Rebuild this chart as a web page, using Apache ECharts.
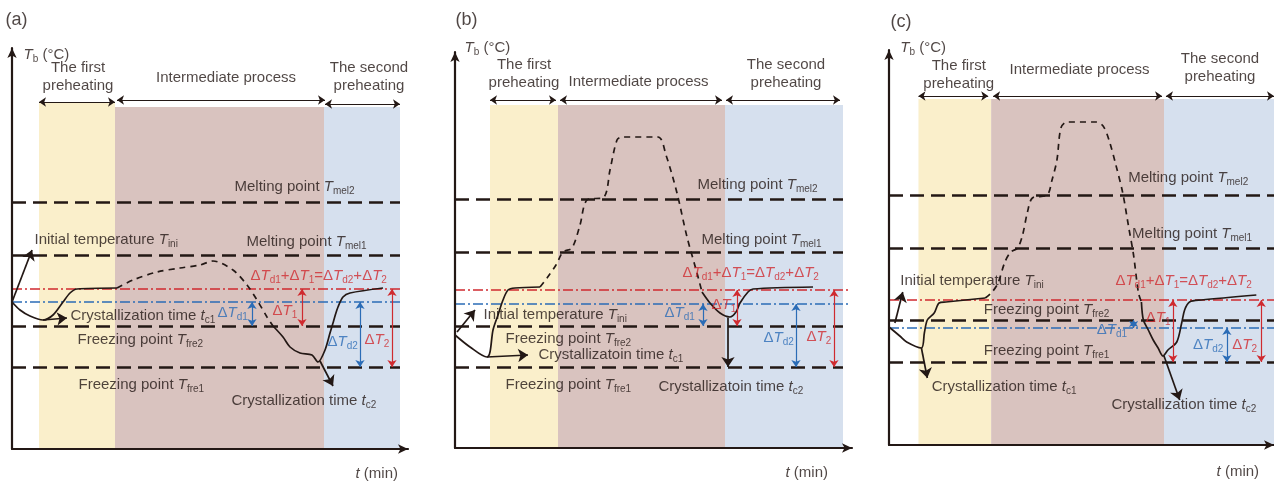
<!DOCTYPE html>
<html><head><meta charset="utf-8">
<script src="https://cdn.jsdelivr.net/npm/echarts@6/dist/echarts.min.js"></script>
<style>html,body{margin:0;padding:0;background:#fff}#c{width:1274px;height:481px}</style>
</head><body><div id="c"></div>
<script>
// ---------- shared strings ----------
const EQ = 'Δ{i|T}{s|d1}+Δ{i|T}{s|1}=Δ{i|T}{s|d2}+Δ{i|T}{s|2}';
const PHASE_COLORS = ['#faefcb', '#d9c3bf', '#d6e0ee'];

// ---------- panel (a) ----------
const phasesA = [[27,103,346],[103,312,342],[312,388,342]];
const phaseArrowsA = [[27,103,347],[105,313,349],[313,388,345]];
const levelsA = [247,194,123,82];   // Tmel2, Tmel1, Tfre2, Tfre1
const levelSpanA = [0,388];
const refsA = [160,147];             // red, blue
const refSpanA = [0,388];
const solid1A = [[0,147],[8,139],[18,133],[31,129],[41,134],[51,147],[58,156],[65,160],[105,161]];
const dashA = [[105,161],[121,169],[145,177],[168,181],[188,184],[201,188],[221,179],[235,164],[245,149],[255,132],[261,123]];
const solid2A = [[261,123],[271,112],[278,102],[288,96],[300,94],[306,87],[313,99],[318,116],[321,126],[323,133],[326,142],[331,152],[338,156],[371,161]];
const arrowsA = [[0,147,20,199],[31,129,55,131],[308,88,321,63]];
const redArrowsA = [[290,160,290,123],[380,160,380,82]];
const blueArrowsA = [[240,147,240,123],[348,147,348,82]];
const labelsA = [
  ['(a)', -7, 429, 'r', 'k', 18],
  ['{i|T}{s|b} (°C)', 11, 394, 'r', 'k'],
  ['The first\npreheating', 66, 372, 'c', 'k'],
  ['Intermediate process', 214, 371, 'c', 'k'],
  ['The second\npreheating', 357, 372, 'c', 'k'],
  ['Melting point {i|T}{s|mel2}', 222, 262, 'r', 'k'],
  ['Initial temperature {i|T}{s|ini}', 22, 209, 'r', 'k'],
  ['Melting point {i|T}{s|mel1}', 234, 207, 'r', 'k'],
  [EQ, 238, 173, 'r', 'r'],
  ['Crystallization time {i|t}{s|c1}', 58, 133, 'r', 'k'],
  ['Δ{i|T}{s|d1}', 205, 136, 'r', 'b'],
  ['Δ{i|T}{s|1}', 260, 138, 'r', 'r'],
  ['Freezing point {i|T}{s|fre2}', 65, 109, 'r', 'k'],
  ['Δ{i|T}{s|d2}', 315, 107, 'r', 'b'],
  ['Δ{i|T}{s|2}', 352, 109, 'r', 'r'],
  ['Freezing point {i|T}{s|fre1}', 66, 64, 'r', 'k'],
  ['Crystallization time {i|t}{s|c2}', 219, 48, 'r', 'k'],
  ['{i|t} (min)', 343, -25, 'r', 'k']
];

// ---------- panel (b) ----------
const phasesB = [[35,103,343],[103,270,343],[270,388,343]];
const phaseArrowsB = [[35,101,348],[105,267,348],[271,385,348]];
const levelsB = [249,196,122,81];
const levelSpanB = [0,388];
const refsB = [158,144];
const refSpanB = [0,395];
const solid1B = [[0,113],[15,101],[32,91],[35,96],[38,118],[43,133],[48,148],[53,158],[60,160],[85,161]];
const dashB = [[85,161],[92,170],[101,183],[108,196],[117,200],[125,223],[132,248],[149,251],[155,278],[162,308],[167,311],[203,311],[211,293],[222,255],[232,211],[242,175],[247,156]];
const solid2B = [[247,156],[255,145],[265,135],[275,131],[281,136],[285,145],[293,156],[298,159],[358,161]];
const arrowsB = [[2,116,20,138],[32,91,73,93],[273,130,273,81]];
const redArrowsB = [[282,158,282,122],[379,158,379,81]];
const blueArrowsB = [[248,144,248,122],[341,144,341,81]];
const labelsB = [
  ['(b)', 0, 428, 'r', 'k', 18],
  ['{i|T}{s|b} (°C)', 9, 400, 'r', 'k'],
  ['The first\npreheating', 69, 374, 'c', 'k'],
  ['Intermediate process', 113, 366, 'r', 'k'],
  ['The second\npreheating', 331, 374, 'c', 'k'],
  ['Melting point {i|T}{s|mel2}', 242, 263, 'r', 'k'],
  ['Melting point {i|T}{s|mel1}', 246, 208, 'r', 'k'],
  [EQ, 227, 175, 'r', 'r'],
  ['Initial temperature {i|T}{s|ini}', 28, 133, 'r', 'k'],
  ['Δ{i|T}{s|d1}', 209, 135, 'r', 'b'],
  ['Δ{i|T}{s|1}', 256, 143, 'r', 'r'],
  ['Freezing point {i|T}{s|fre2}', 50, 109, 'r', 'k'],
  ['Crystallizatoin time {i|t}{s|c1}', 83, 93, 'r', 'k'],
  ['Δ{i|T}{s|d2}', 308, 110, 'r', 'b'],
  ['Δ{i|T}{s|2}', 351, 111, 'r', 'r'],
  ['Freezing point {i|T}{s|fre1}', 50, 63, 'r', 'k'],
  ['Crystallizatoin time {i|t}{s|c2}', 203, 61, 'r', 'k'],
  ['{i|t} (min)', 330, -25, 'r', 'k']
];

// ---------- panel (c) ----------
const phasesC = [[30,104,346],[104,280,346],[280,395,346]];
const phaseArrowsC = [[30,101,349],[106,278,349],[282,392,349]];
const levelsC = [250,197,125,83];
const levelSpanC = [0,392];
const refsC = [145,117];
const refSpanC = [0,392];
const solid1C = [[0,118],[11,109],[18,103],[33,97],[36,112],[39,125],[46,132],[51,142],[58,143],[98,147]];
const dashC = [[98,147],[105,153],[111,162],[118,183],[124,193],[131,197],[136,210],[141,233],[146,247],[161,250],[166,265],[171,285],[175,317],[181,323],[211,323],[218,319],[224,305],[231,280],[238,252],[244,218],[249,190],[254,152],[257,143]];
const solid2C = [[257,143],[259,125],[264,115],[269,105],[274,97],[279,89],[284,95],[293,103],[298,122],[301,135],[306,143],[318,145],[374,150]];
const arrowsC = [[6,122,14,153],[33,97,39,67],[280,89,296,45]];
const redArrowsC = [[289,145,289,83],[379,145,379,83]];
const blueArrowsC = [[249,125,249,117],[344,117,344,83]];
const labelsC = [
  ['(c)', 1, 423, 'r', 'k', 18],
  ['{i|T}{s|b} (°C)', 11, 397, 'r', 'k'],
  ['The first\npreheating', 71, 370, 'c', 'k'],
  ['Intermediate process', 194, 375, 'c', 'k'],
  ['The second\npreheating', 337, 377, 'c', 'k'],
  ['Melting point {i|T}{s|mel2}', 243, 267, 'r', 'k'],
  ['Melting point {i|T}{s|mel1}', 247, 211, 'r', 'k'],
  ['Initial temperature {i|T}{s|ini}', 11, 164, 'r', 'k'],
  [EQ, 230, 164, 'r', 'r'],
  ['Freezing point {i|T}{s|fre2}', 96, 135, 'r', 'k'],
  ['Δ{i|T}{s|1}', 261, 127, 'r', 'r'],
  ['Δ{i|T}{s|d1}', 211, 115, 'r', 'b'],
  ['Freezing point {i|T}{s|fre1}', 96, 94, 'r', 'k'],
  ['Δ{i|T}{s|d2}', 309, 100, 'r', 'b'],
  ['Δ{i|T}{s|2}', 349, 100, 'r', 'r'],
  ['Crystallization time {i|t}{s|c1}', 43, 58, 'r', 'k'],
  ['Crystallization time {i|t}{s|c2}', 226, 40, 'r', 'k'],
  ['{i|t} (min)', 333, -27, 'r', 'k']
];

// ---------- layout ----------
const gridBoxes = [
  {left:12, top:48, width:396, height:401},
  {left:455, top:52, width:397, height:396},
  {left:889, top:50, width:392, height:395}
];

const INK = '#231815', RED = '#cf2a2f', BLUE = '#2b6cb6';
const COLOR = {k: INK, r: RED, b: BLUE};
const FONT = '"Liberation Sans", Arial, sans-serif';

function shade(params, api) {
  const a = api.coord([api.value(0), api.value(2)]);
  const b = api.coord([api.value(1), 0]);
  return {type:'rect', shape:{x:a[0], y:a[1], width:b[0]-a[0], height:b[1]-a[1]},
          style:{fill: PHASE_COLORS[api.value(3)]}};
}

function seg(list) { return list.map(s => ({coords: [[s[0], s[1]], [s[2], s[3]]]})); }

function panelSeries(i, d) {
  const base = {xAxisIndex: i, yAxisIndex: i, silent: true};
  const linesBase = Object.assign({type:'lines', coordinateSystem:'cartesian2d'}, base);
  return [
    Object.assign({type:'custom', renderItem: shade, z:1, clip:false,
      data: d.phases.map((p,k) => [p[0], p[1], p[2], k])}, base),
    Object.assign({}, linesBase, {z:3, symbol:'none',
      lineStyle:{color:INK, width:2.6, type:[14,7], opacity:1},
      data: d.levels.map(v => ({coords:[[d.levelSpan[0], v],[d.levelSpan[1], v]]}))}),
    Object.assign({}, linesBase, {z:3, symbol:'none',
      lineStyle:{color:RED, width:1.5, type:[10,3,2,3], opacity:1},
      data: [{coords:[[d.refSpan[0], d.refs[0]],[d.refSpan[1], d.refs[0]]]}]}),
    Object.assign({}, linesBase, {z:3, symbol:'none',
      lineStyle:{color:BLUE, width:1.5, type:[10,3,2,3], opacity:1},
      data: [{coords:[[d.refSpan[0], d.refs[1]],[d.refSpan[1], d.refs[1]]]}]}),
    Object.assign({type:'line', data:d.solid1, showSymbol:false, symbol:'none', smooth:0.3, clip:false, z:4,
      lineStyle:{color:INK, width:1.7}}, base),
    Object.assign({type:'line', data:d.dashed, showSymbol:false, symbol:'none', smooth:0.3, clip:false, z:4,
      lineStyle:{color:INK, width:1.7, type:[6,5]}}, base),
    Object.assign({type:'line', data:d.solid2, showSymbol:false, symbol:'none', smooth:0.3, clip:false, z:4,
      lineStyle:{color:INK, width:1.7}}, base),
    Object.assign({}, linesBase, {z:5, symbol:['none','arrow'], symbolSize:10,
      lineStyle:{color:INK, width:1.7, opacity:1}, data: seg(d.arrows)}),
    Object.assign({}, linesBase, {z:5, symbol:['arrow','arrow'], symbolSize:7,
      lineStyle:{color:RED, width:1.2, opacity:1}, data: seg(d.redArrows)}),
    Object.assign({}, linesBase, {z:5, symbol:['arrow','arrow'], symbolSize:7,
      lineStyle:{color:BLUE, width:1.2, opacity:1}, data: seg(d.blueArrows)}),
    Object.assign({}, linesBase, {z:5, symbol:['arrow','arrow'], symbolSize:7,
      lineStyle:{color:INK, width:1, opacity:1},
      data: d.phaseArrows.map(p => ({coords:[[p[0], p[2]],[p[1], p[2]]]}))}),
    Object.assign({type:'scatter', symbol:'circle', symbolSize:1, itemStyle:{color:'rgba(0,0,0,0)'}, clip:false, z:6,
      label:{show:true, formatter: p => p.name, fontFamily: FONT, fontSize:15, lineHeight:18, color: INK,
        rich:{i:{fontStyle:'italic'}, s:{fontSize:10, lineHeight:10, verticalAlign:'bottom'}}},
      labelLayout: {hideOverlap: false},
      data: d.labels.map(l => ({name:l[0], value:[l[1], l[2]],
        label:{position: l[3] === 'c' ? 'inside' : 'right', distance:0, align: l[3]==='c' ? 'center' : 'left',
               color: COLOR[l[4]], fontSize: l[5] || 15}}))}, base)
  ];
}

const panels = [
  {phases:phasesA, phaseArrows:phaseArrowsA, levels:levelsA, levelSpan:levelSpanA, refs:refsA, refSpan:refSpanA,
   solid1:solid1A, dashed:dashA, solid2:solid2A, arrows:arrowsA, redArrows:redArrowsA, blueArrows:blueArrowsA, labels:labelsA},
  {phases:phasesB, phaseArrows:phaseArrowsB, levels:levelsB, levelSpan:levelSpanB, refs:refsB, refSpan:refSpanB,
   solid1:solid1B, dashed:dashB, solid2:solid2B, arrows:arrowsB, redArrows:redArrowsB, blueArrows:blueArrowsB, labels:labelsB},
  {phases:phasesC, phaseArrows:phaseArrowsC, levels:levelsC, levelSpan:levelSpanC, refs:refsC, refSpan:refSpanC,
   solid1:solid1C, dashed:dashC, solid2:solid2C, arrows:arrowsC, redArrows:redArrowsC, blueArrows:blueArrowsC, labels:labelsC}
];

function axis(i, max) {
  return {type:'value', gridIndex:i, min:0, max:max, z:10,
    axisLine:{show:true, onZero:false, symbol:['none','arrow'], symbolSize:[7,10], lineStyle:{color:INK, width:2.2}},
    axisTick:{show:false}, axisLabel:{show:false}, splitLine:{show:false}};
}

const chart = echarts.init(document.getElementById('c'), null, {renderer:'canvas'});
chart.setOption({
  animation: false,
  backgroundColor: '#ffffff',
  textStyle: {fontFamily: FONT},
  grid: gridBoxes.map(g => Object.assign({containLabel:false}, g)),
  xAxis: gridBoxes.map((g, i) => axis(i, g.width)),
  yAxis: gridBoxes.map((g, i) => axis(i, g.height)),
  series: panels.flatMap((d, i) => panelSeries(i, d))
});
</script>
</body></html>
